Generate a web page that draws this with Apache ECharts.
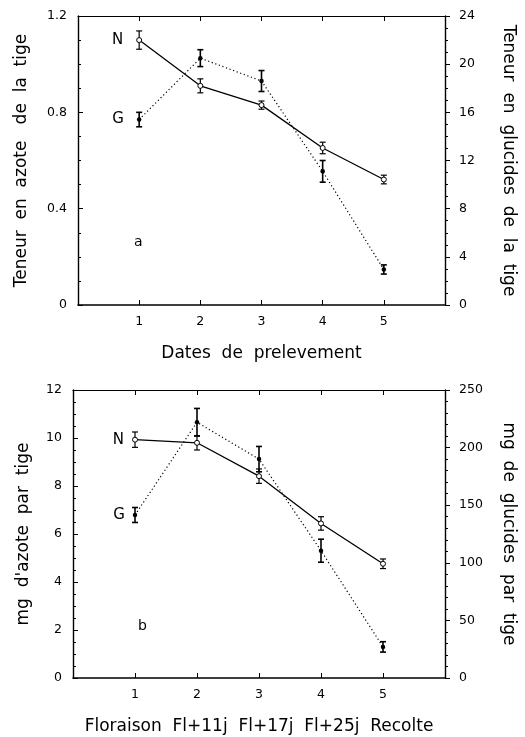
<!DOCTYPE html>
<html>
<head>
<meta charset="utf-8">
<script src="https://cdn.jsdelivr.net/npm/echarts@6/dist/echarts.min.js"></script>
<style>
html,body{margin:0;padding:0;background:#fff;}
#chart{width:525px;height:737px;}
</style>
</head>
<body>
<div id="chart"></div>
<script>
// ---- data ----
const dates = [1, 2, 3, 4, 5];
const xTickLabels = ['1', '2', '3', '4', '5'];

// panel a : concentration
const azoteA = [1.10, 0.91, 0.83, 0.652, 0.521];
const azoteErrA = [0.038, 0.029, 0.017, 0.024, 0.018];
const glucidesA = [15.4, 20.5, 18.6, 11.1, 2.95];
const glucidesErrA = [0.6, 0.7, 0.87, 0.9, 0.38];

// panel b : quantity per stem
const azoteB = [9.93, 9.8, 8.41, 6.44, 4.76];
const azoteErrB = [0.32, 0.3, 0.3, 0.28, 0.2];
const glucidesB = [141.5, 222, 190, 110.5, 27];
const glucidesErrB = [6.5, 12, 11, 10, 4.5];

const titleXA = 'Dates  de  prelevement';
const titleXB = 'Floraison  Fl+11j  Fl+17j  Fl+25j  Recolte';
const titleYLA = 'Teneur  en  azote   de  la  tige';
const titleYRA = 'Teneur  en  glucides  de  la  tige';
const titleYLB = "mg  d'azote  par  tige";
const titleYRB = 'mg  de  glucides  par  tige';

// ---- styling ----
const FONT = 'DejaVu Sans';
const tickFont = {fontFamily: FONT, fontSize: 12.5, color: '#000'};
const nameFont = {fontFamily: FONT, fontSize: 17, color: '#000'};

function xAxisBottom(grid, name, gap) {
  return {
    type: 'value', gridIndex: grid, position: 'bottom', min: 0, max: 6, interval: 1,
    name: name, nameLocation: 'middle', nameGap: gap, nameTextStyle: nameFont,
    axisLine: {show: true, onZero: false, lineStyle: {color: '#000', width: 1.6}},
    axisTick: {show: true, inside: true, length: 5, lineStyle: {color: '#000'}},
    axisLabel: {show: true, margin: 10, ...tickFont,
      formatter: v => (v >= 1 && v <= 5) ? xTickLabels[v - 1] : ''},
    splitLine: {show: false}
  };
}
function xAxisTop(grid) {
  return {
    type: 'value', gridIndex: grid, position: 'top', min: 0, max: 6, interval: 1,
    axisLine: {show: true, onZero: false, lineStyle: {color: '#000', width: 1.2}},
    axisTick: {show: true, inside: true, length: 5, lineStyle: {color: '#000'}},
    axisLabel: {show: false}, splitLine: {show: false}
  };
}
function yAxis(grid, pos, max, interval, minorSplit, name, gap) {
  const left = pos === 'left';
  return {
    type: 'value', gridIndex: grid, position: pos, min: 0, max: max, interval: interval,
    name: name, nameLocation: 'middle', nameGap: gap, nameRotate: left ? 90 : -90,
    nameTextStyle: nameFont,
    axisLine: {show: true, onZero: false, lineStyle: {color: '#000', width: 1.4}},
    axisTick: {show: true, inside: left, length: 5, lineStyle: {color: '#000'}},
    minorTick: {show: true, splitNumber: minorSplit, length: 3, lineStyle: {color: '#000', width: 1}},
    axisLabel: {show: true, margin: left ? 11 : 14, ...tickFont},
    splitLine: {show: false}, minorSplitLine: {show: false}
  };
}

function errorBars(xIdx, yIdx, vals, errs, width, capW) {
  return {
    type: 'custom', xAxisIndex: xIdx, yAxisIndex: yIdx, z: 2, silent: true,
    data: vals.map((v, i) => [dates[i], v - errs[i], v + errs[i]]),
    encode: {x: 0, y: [1, 2]},
    renderItem: function (params, api) {
      const lo = api.coord([api.value(0), api.value(1)]);
      const hi = api.coord([api.value(0), api.value(2)]);
      const st = {stroke: '#000', lineWidth: width};
      return {type: 'group', children: [
        {type: 'line', shape: {x1: lo[0], y1: lo[1], x2: hi[0], y2: hi[1]}, style: st},
        {type: 'line', shape: {x1: lo[0] - capW, y1: lo[1], x2: lo[0] + capW, y2: lo[1]}, style: st},
        {type: 'line', shape: {x1: hi[0] - capW, y1: hi[1], x2: hi[0] + capW, y2: hi[1]}, style: st}
      ]};
    }
  };
}

function lineData(vals, tag, dist) {
  return vals.map((v, i) => {
    if (i === 0) {
      return {value: [dates[i], v], label: {show: true, formatter: tag, position: 'left',
        distance: dist, fontFamily: FONT, fontSize: 15, color: '#000'}};
    }
    return [dates[i], v];
  });
}

function nSeries(xIdx, yIdx, vals, dist) {
  return {
    type: 'line', xAxisIndex: xIdx, yAxisIndex: yIdx, z: 3,
    data: lineData(vals, 'N', dist),
    symbol: 'circle', symbolSize: 5, showSymbol: true,
    itemStyle: {color: '#fff', borderColor: '#000', borderWidth: 1},
    lineStyle: {color: '#000', width: 1.3, type: 'solid'},
    emphasis: {disabled: true}, animation: false
  };
}
function gSeries(xIdx, yIdx, vals, dist) {
  return {
    type: 'line', xAxisIndex: xIdx, yAxisIndex: yIdx, z: 3,
    data: lineData(vals, 'G', dist),
    symbol: 'circle', symbolSize: 4.5, showSymbol: true,
    itemStyle: {color: '#000', borderColor: '#000', borderWidth: 0},
    lineStyle: {color: '#000', width: 1.2, type: [1.2, 2.6]},
    emphasis: {disabled: true}, animation: false
  };
}

const chart = echarts.init(document.getElementById('chart'), null, {renderer: 'canvas'});
chart.setOption({
  backgroundColor: '#fff',
  animation: false,
  grid: [
    {left: 78, top: 16, width: 377, height: 289, containLabel: false},
    {left: 73, top: 390, width: 377, height: 288, containLabel: false}
  ],
  xAxis: [
    xAxisBottom(0, titleXA, 40),
    xAxisTop(0),
    xAxisBottom(1, titleXB, 40),
    xAxisTop(1)
  ],
  yAxis: [
    yAxis(0, 'left', 1.2, 0.4, 4, titleYLA, 48),
    yAxis(0, 'right', 24, 4, 4, titleYRA, 55),
    yAxis(1, 'left', 12, 2, 4, titleYLB, 41),
    yAxis(1, 'right', 250, 50, 5, titleYRB, 55)
  ],
  graphic: [
    {type: 'text', left: 134, top: 235, style: {text: 'a', font: '14px DejaVu Sans', fill: '#000'}},
    {type: 'text', left: 138, top: 619, style: {text: 'b', font: '14px DejaVu Sans', fill: '#000'}}
  ],
  series: [
    errorBars(0, 0, azoteA, azoteErrA, 1.2, 3),
    errorBars(0, 1, glucidesA, glucidesErrA, 1.6, 3),
    nSeries(0, 0, azoteA, 13),
    gSeries(0, 1, glucidesA, 13),
    errorBars(2, 2, azoteB, azoteErrB, 1.2, 3),
    errorBars(2, 3, glucidesB, glucidesErrB, 1.6, 3),
    nSeries(2, 2, azoteB, 8),
    gSeries(2, 3, glucidesB, 8)
  ]
});
</script>
</body>
</html>
